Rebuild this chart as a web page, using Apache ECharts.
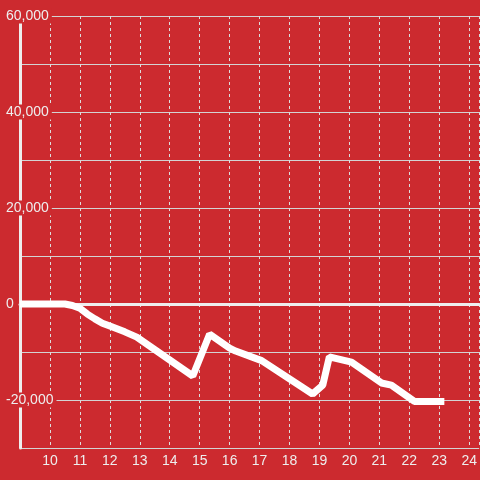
<!DOCTYPE html>
<html>
<head>
  <meta charset="UTF-8">
  <title>line</title>
  <script src="https://cdn.jsdelivr.net/npm/echarts@6/dist/echarts.min.js"></script>
</head>
<body style="margin: 0; background: #cc2a2f;">
  <div id="chart" style="width: 480px; height: 480px;"></div>
  <script type="text/javascript">
    // x positions and values
    var times = [9, 10.5, 10.75, 11, 11.25, 11.5, 11.75, 12, 12.5, 12.9, 14.77, 15.33, 16, 16.2, 17.07,
      18.77, 19.11, 19.33, 20.07, 21.07, 21.4, 22.17, 23.17];
    var values = [0, 0, -300, -900, -2100, -3100, -4000, -4600, -5800, -6900, -15000, -6300, -9200, -9800, -11800,
      -18750, -16900, -11000, -12100, -16450, -16900, -20300, -20300];
    var xLabels = [10, 11, 12, 13, 14, 15, 16, 17, 18, 19, 20, 21, 22, 23, 24];
    var yLabels = [-20000, 0, 20000, 40000, 60000];

    var bg = '#cc2a2f';
    var font = 'Liberation Sans, Arial, sans-serif';

    var chart = echarts.init(document.getElementById('chart'));
    var option = {
      backgroundColor: bg,
      animation: false,
      grid: {
        left: 20,
        right: 0,
        top: 16,
        bottom: 32
      },
      xAxis: {
        type: 'value',
        min: 9,
        max: 24.333,
        interval: 1,
        axisLine: {
          onZero: true,
          lineStyle: { color: '#eee', width: 3 }
        },
        axisTick: { show: false },
        axisLabel: {
          customValues: xLabels,
          color: '#eee',
          fontSize: 14,
          fontFamily: font,
          margin: 6
        },
        splitLine: {
          show: true,
          lineStyle: { color: '#ddd', width: 1, type: [3, 3] }
        }
      },
      yAxis: {
        type: 'value',
        min: -30000,
        max: 60000,
        interval: 10000,
        axisLine: {
          show: true,
          lineStyle: { color: '#eee', width: 3 }
        },
        axisTick: { show: false },
        axisLabel: {
          customValues: yLabels,
          color: '#eee',
          fontSize: 14,
          fontFamily: font,
          align: 'left',
          margin: 14,
          backgroundColor: bg,
          padding: [1, 3, 0, 0],
          formatter: function (v) {
            return v.toLocaleString('en-US');
          }
        },
        splitLine: {
          show: true,
          lineStyle: { color: '#d3d3d3', width: 1 }
        }
      },
      series: [{
        type: 'line',
        data: times.map(function (t, i) { return [t, values[i]]; }),
        showSymbol: false,
        lineStyle: { color: '#fff', width: 7, cap: 'butt', join: 'bevel' }
      }]
    };
    chart.setOption(option);
  </script>
</body>
</html>
